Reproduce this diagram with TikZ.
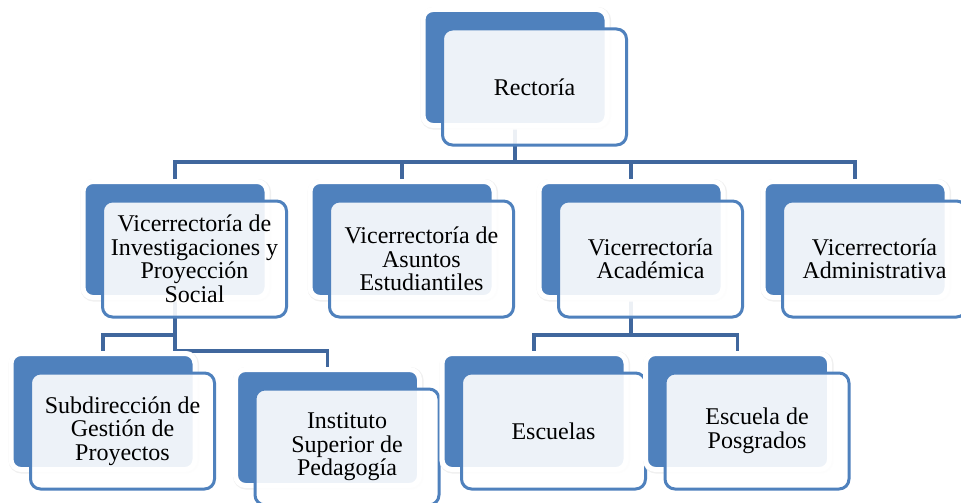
\documentclass[tikz,border=0pt]{standalone}
\usepackage{fontspec}
\setmainfont{Liberation Serif}
\usetikzlibrary{calc}
\definecolor{boxblue}{HTML}{4F81BD}
\definecolor{linkblue}{HTML}{40679D}
\pgfdeclarelayer{lines}
\pgfsetlayers{lines,main}

\begin{document}
\begin{tikzpicture}[x=1pt, y=-1pt,
  back/.style={rectangle, rounded corners=10pt, fill=boxblue, draw=white, line width=5pt,
               preaction={draw=black!6, line width=6.5pt, transform canvas={shift={(0.8pt,-0.8pt)}}},
               minimum width=184pt, minimum height=116pt, inner sep=0pt},
  front/.style={rectangle, rounded corners=10pt, fill=white, fill opacity=0.9, text opacity=1,
                draw=boxblue, line width=3pt, minimum width=184pt, minimum height=116pt,
                inner sep=0pt, align=center, font=\fontsize{24}{23.5}\selectfont},
  conn/.style={draw=linkblue, line width=3.5pt}]

\useasboundingbox (0,0) rectangle (961,503);

\node[back](rec) at (515,67.5) {};
\node[front](recf) at ($(rec)+(19.5,19.5)$) {Rectoría};

\node[back](vips) at (175,239.5) {};
\node[front](vipsf) at ($(vips)+(19.5,19.5)$) {Vicerrectoría de\\Investigaciones y\\Proyección\\Social};
\node[back](vae) at (402,239.5) {};
\node[front](vaef) at ($(vae)+(19.5,19.5)$) {Vicerrectoría de\\Asuntos\\Estudiantiles};
\node[back](vac) at (631,239.5) {};
\node[front](vacf) at ($(vac)+(19.5,19.5)$) {Vicerrectoría\\Académica};
\node[back](vad) at (855,239.5) {};
\node[front](vadf) at ($(vad)+(19.5,19.5)$) {Vicerrectoría\\Administrativa};

\node[back](sgp) at (103,411.5) {};
\node[front](sgpf) at ($(sgp)+(19.5,19.5)$) {Subdirección de\\Gestión de\\Proyectos};
\node[back](isp) at (327.5,427.5) {};
\node[front](ispf) at ($(isp)+(19.5,19.5)$) {Instituto\\Superior de\\Pedagogía};
\node[back](esc) at (534,411.5) {};
\node[front](escf) at ($(esc)+(19.5,19.5)$) {Escuelas};
\node[back](epg) at (737.5,411.5) {};
\node[front](epgf) at ($(epg)+(19.5,19.5)$) {Escuela de\\Posgrados};

\coordinate (bus1) at (515,162);
\coordinate (bus2) at (175,335);
\coordinate (bus3) at (175,351);
\coordinate (bus4) at (631,335);

\begin{pgfonlayer}{lines}
\fill[white] (0,0) rectangle (961,503);
\draw[conn] (rec.center) -- (bus1) -| (vips.north);
\draw[conn] (bus1) -| (vae.north);
\draw[conn] (bus1) -| (vac.north);
\draw[conn] (bus1) -| (vad.north);
\draw[conn] (vips.center) -- (bus3) -| (isp.north);
\draw[conn] (bus2) -| (sgp.north);
\draw[conn] (vac.center) -- (bus4) -| (esc.north);
\draw[conn] (bus4) -| (epg.north);
\end{pgfonlayer}

\end{tikzpicture}
\end{document}
